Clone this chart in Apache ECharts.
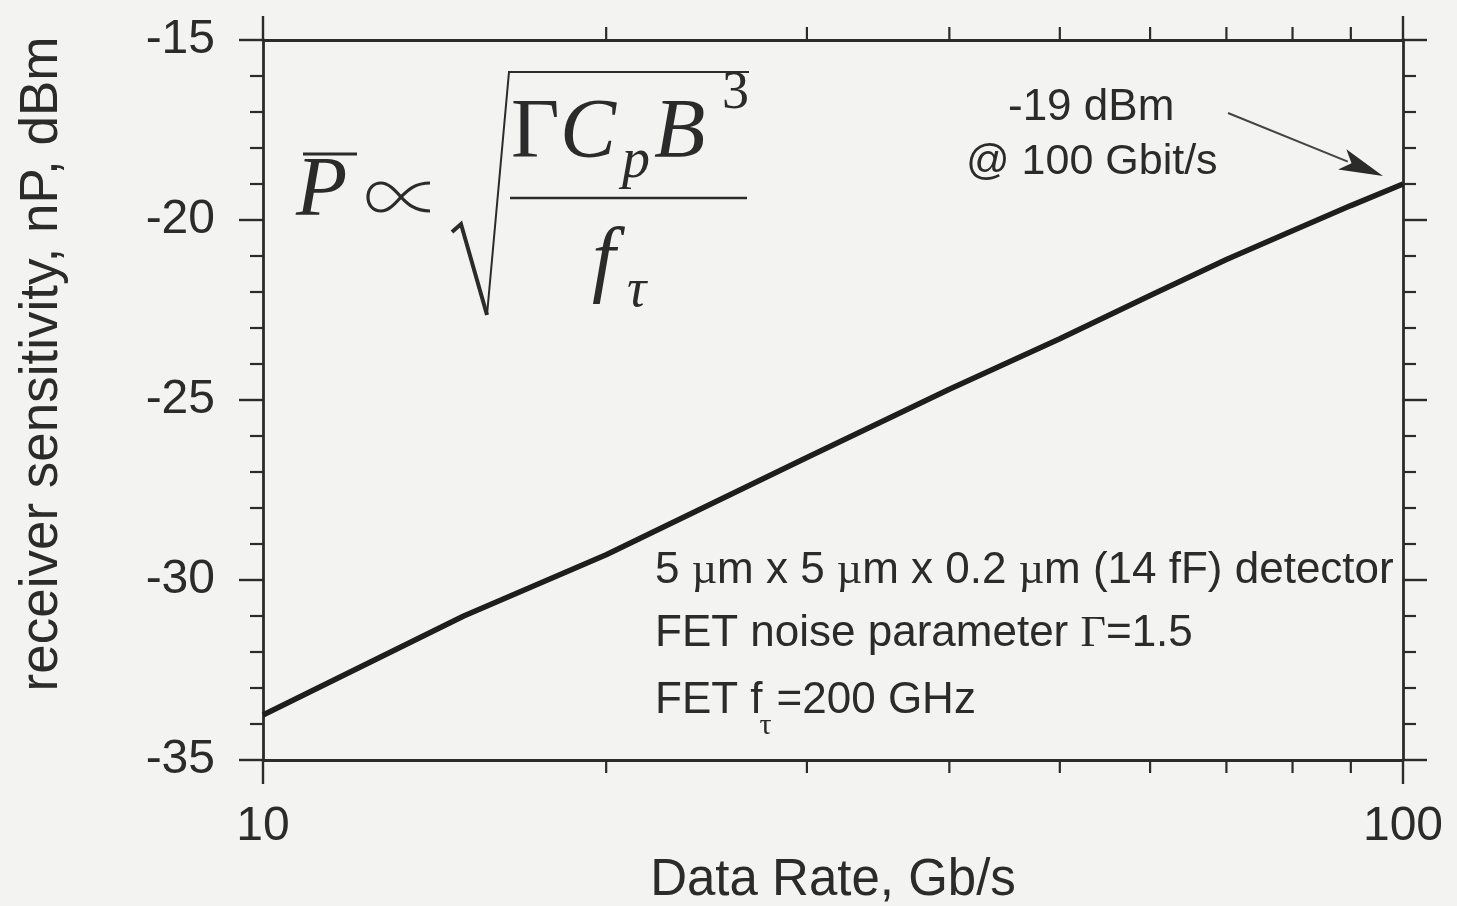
<!DOCTYPE html>
<html>
<head>
<meta charset="utf-8">
<script src="https://cdn.jsdelivr.net/npm/echarts@6/dist/echarts.min.js"></script>
<style>
  html, body { margin: 0; padding: 0; background: #f3f3f1; }
  #chart { width: 1457px; height: 906px; }
</style>
</head>
<body>
<div id="chart"></div>
<script>
// Receiver sensitivity vs data rate (log x axis)
const rates = [10, 15, 20, 30, 40, 50, 60, 70, 80, 90, 100];
const sensitivity = [-33.75, -31.0, -29.3, -26.6, -24.7, -23.3, -22.1, -21.1, -20.3, -19.6, -19.0];
const minorRates = [20, 30, 40, 50, 60, 70, 80, 90];
const rateMin = 10, rateMax = 100;
const yMin = -35, yMax = -15, yStep = 5;

const ink = '#2b2b2b';
const sans = '"Liberation Sans", Arial, Helvetica, sans-serif';
const serif = '"Liberation Serif", "DejaVu Serif", "Times New Roman", serif';

const chart = echarts.init(document.getElementById('chart'), null, { renderer: 'canvas' });

const axisLine = { show: true, lineStyle: { color: ink, width: 2.8 } };
const majorTick = { show: true, inside: false, length: 24, lineStyle: { color: ink, width: 2.4 } };
const minorTick = { show: true, splitNumber: 5, length: 13, lineStyle: { color: ink, width: 2.2 } };

function xAxisDef(pos, withLabels) {
  return {
    type: 'log', logBase: 10, min: rateMin, max: rateMax, position: pos,
    axisLine, axisTick: majorTick, splitLine: { show: false },
    axisLabel: withLabels ? {
      show: true, margin: 43, color: ink, fontSize: 48, fontFamily: sans,
      formatter: v => String(v)
    } : { show: false },
    name: withLabels ? 'Data Rate, Gb/s' : '',
    nameLocation: 'middle', nameGap: 94,
    nameTextStyle: { color: ink, fontSize: 51, fontFamily: sans }
  };
}

function yAxisDef(pos, withLabels) {
  return {
    type: 'value', min: yMin, max: yMax, interval: yStep, position: pos,
    axisLine, axisTick: majorTick, minorTick, splitLine: { show: false }, minorSplitLine: { show: false },
    axisLabel: withLabels ? { show: true, margin: 48, color: ink, fontSize: 48, fontFamily: sans } : { show: false }
  };
}

// tick marks at 20..90 on the bottom and top log axes
function renderLogMinor(params, api) {
  const v = api.value(0);
  const b = api.coord([v, yMin]);
  const t = api.coord([v, yMax]);
  const st = { stroke: ink, lineWidth: 2.2 };
  return {
    type: 'group',
    children: [
      { type: 'line', shape: { x1: b[0], y1: b[1], x2: b[0], y2: b[1] + 13 }, style: st },
      { type: 'line', shape: { x1: t[0], y1: t[1], x2: t[0], y2: t[1] - 13 }, style: st }
    ]
  };
}

function txt(text, x, y, font, extra, props) {
  return Object.assign({
    type: 'text', x, y, silent: true,
    style: Object.assign({ text, font, fill: ink, align: 'left', verticalAlign: 'middle' }, extra || {})
  }, props || {});
}

function line(x1, y1, x2, y2, w) {
  return { type: 'line', silent: true, shape: { x1, y1, x2, y2 }, style: { stroke: ink, lineWidth: w } };
}

// "proportional to" sign: thin open loop built from cubic segments (local coords around its centre)
const propSegments = [
  [31, -14, 15, -14, 8, -6, 2, 0],
  [2, 0, -5, 8, -11, 14, -18, 14],
  [-18, 14, -26, 14, -31, 8, -31, 0],
  [-31, 0, -31, -8, -26, -14, -18, -14],
  [-18, -14, -11, -14, -5, -8, 2, 0],
  [2, 0, 8, 6, 15, 14, 31, 14]
];
const propSign = {
  type: 'group', x: 399, y: 197, silent: true,
  children: propSegments.map(s => ({
    type: 'bezierCurve', silent: true,
    shape: { x1: s[0], y1: s[1], cpx1: s[2], cpy1: s[3], cpx2: s[4], cpy2: s[5], x2: s[6], y2: s[7] },
    style: { stroke: ink, lineWidth: 3.2, fill: null }
  }))
};

// P-bar ∝ sqrt(Γ Cp B^3 / fτ)
const formula = [
  txt('P', 296, 193, 'italic 84px ' + serif),
  line(303, 154, 357, 154, 3),
  propSign,
  { type: 'polyline', silent: true, shape: { points: [[452, 232], [461, 224], [487, 315]] },
    style: { stroke: ink, lineWidth: 4, fill: null } },
  { type: 'polyline', silent: true, shape: { points: [[487, 315], [509, 72], [749, 72]] },
    style: { stroke: ink, lineWidth: 2, fill: null } },
  txt('\u0393', 511, 135, '84px ' + serif),
  txt('C', 560, 135, 'italic 84px ' + serif),
  txt('p', 622, 162, 'italic 56px ' + serif),
  txt('B', 654, 135, 'italic 84px ' + serif),
  txt('3', 722, 94, '54px ' + serif),
  line(510, 198, 747, 198, 2.5),
  txt('f', 592, 264, 'italic 84px ' + serif),
  txt('\u03C4', 627, 292, 'italic 54px ' + serif)
];

// parameter notes
const noteFont = '44px ' + sans;
const rich = {
  s: { fontFamily: serif, fontSize: 44, fill: ink, color: ink },
  n: { fontFamily: sans, fontSize: 44, fill: ink, color: ink }
};
function richTxt(text, x, y) {
  return { type: 'text', x, y, silent: true,
    style: { text, rich, fill: ink, font: noteFont, align: 'left', verticalAlign: 'middle' } };
}
const measureCtx = document.createElement('canvas').getContext('2d');
measureCtx.font = noteFont;
const fetF = 'FET f';
const fetFWidth = measureCtx.measureText(fetF).width;

const notes = [
  richTxt('{n|5 }{s|\u00B5}{n|m x 5 }{s|\u00B5}{n|m x 0.2 }{s|\u00B5}{n|m (14 fF) detector}', 655, 571),
  richTxt('{n|FET noise parameter }{s|\u0393}{n|=1.5}', 655, 634),
  txt(fetF, 655, 701, noteFont),
  txt('\u03C4', 655 + fetFWidth - 3, 726, '30px ' + serif),
  txt('=200 GHz', 655 + fetFWidth + 14, 701, noteFont),
  txt('-19 dBm', 1008, 108, '44px ' + sans),
  txt('@ 100 Gbit/s', 966, 162, '43px ' + sans),
  txt('receiver sensitivity, nP, dBm', 42, 364, '53px ' + sans, { align: 'center' }, { rotation: Math.PI / 2 })
];

chart.setOption({
  backgroundColor: '#f3f3f1',
  animation: false,
  grid: { left: 263, right: 54, top: 40, bottom: 146, containLabel: false, outerBoundsMode: 'none' },
  xAxis: [xAxisDef('bottom', true), xAxisDef('top', false)],
  yAxis: [yAxisDef('left', true), yAxisDef('right', false)],
  series: [
    {
      type: 'line', xAxisIndex: 0, yAxisIndex: 0,
      data: rates.map((r, i) => [r, sensitivity[i]]),
      showSymbol: false, symbol: 'none',
      lineStyle: { color: '#1e1e1e', width: 5.5 },
      silent: true
    },
    {
      type: 'custom', xAxisIndex: 0, yAxisIndex: 0, clip: false, silent: true,
      data: minorRates.map(r => [r, yMin]),
      renderItem: renderLogMinor
    }
  ],
  graphic: formula.concat(notes)
});

// arrow pointing at the 100 Gb/s end of the curve
const endPt = chart.convertToPixel({ xAxisIndex: 0, yAxisIndex: 0 },
  [rates[rates.length - 1], sensitivity[sensitivity.length - 1]]);
const tip = [endPt[0] - 20, endPt[1] - 8];
const tail = [1228, 113];
const ang = Math.atan2(tip[1] - tail[1], tip[0] - tail[0]);
const headLen = 44, headHalf = 11;
const ux = Math.cos(ang), uy = Math.sin(ang);
const bx = tip[0] - headLen * ux, by = tip[1] - headLen * uy;
const nx = -uy, ny = ux;

chart.setOption({
  graphic: formula.concat(notes, [
    { type: 'line', silent: true, shape: { x1: tail[0], y1: tail[1], x2: bx + 6 * ux, y2: by + 6 * uy },
      style: { stroke: '#444', lineWidth: 2 } },
    { type: 'polygon', silent: true,
      shape: { points: [tip, [bx + nx * headHalf, by + ny * headHalf], [bx + 10 * ux, by + 10 * uy], [bx - nx * headHalf, by - ny * headHalf]] },
      style: { fill: '#2b2b2b' } }
  ])
}, { replaceMerge: ['graphic'] });
</script>
</body>
</html>
